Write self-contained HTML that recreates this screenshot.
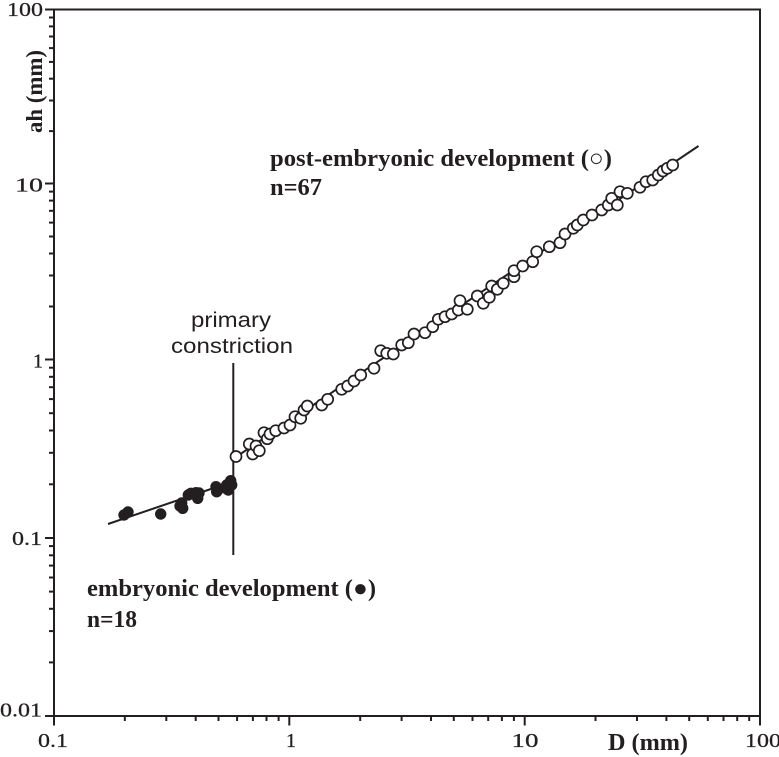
<!DOCTYPE html>
<html>
<head>
<meta charset="utf-8">
<style>
  html, body { margin: 0; padding: 0; background: #ffffff; }
  svg { display: block; }
  .tick { font-family: "Liberation Serif", serif; font-size: 20px; fill: #231f20; stroke: #231f20; stroke-width: 0.25; }
  .bold { font-family: "Liberation Serif", "DejaVu Serif", serif; font-size: 24px; font-weight: bold; fill: #231f20; }
  .sans { font-family: "Liberation Sans", "DejaVu Sans", sans-serif; font-size: 21px; fill: #231f20; }
</style>
</head>
<body>
<svg width="779" height="757" viewBox="0 0 779 757" xmlns="http://www.w3.org/2000/svg">
  <rect x="0" y="0" width="779" height="757" fill="#ffffff"/>

  <g stroke="#231f20" stroke-width="2" fill="none">
    <rect x="54" y="9.5" width="706" height="706.5"/>
  </g>

  <g stroke="#231f20" stroke-width="2">
    <line x1="45" y1="9.5" x2="54" y2="9.5"/>
    <line x1="45" y1="183.5" x2="54" y2="183.5"/>
    <line x1="45" y1="359.5" x2="54" y2="359.5"/>
    <line x1="45" y1="538" x2="54" y2="538"/>
    <line x1="45" y1="716" x2="54" y2="716"/>
    <line x1="49" y1="131.1" x2="54" y2="131.1"/>
    <line x1="49" y1="100.5" x2="54" y2="100.5"/>
    <line x1="49" y1="78.7" x2="54" y2="78.7"/>
    <line x1="49" y1="61.9" x2="54" y2="61.9"/>
    <line x1="49" y1="48.1" x2="54" y2="48.1"/>
    <line x1="49" y1="36.5" x2="54" y2="36.5"/>
    <line x1="49" y1="26.4" x2="54" y2="26.4"/>
    <line x1="49" y1="17.5" x2="54" y2="17.5"/>
    <line x1="49" y1="306.5" x2="54" y2="306.5"/>
    <line x1="49" y1="275.5" x2="54" y2="275.5"/>
    <line x1="49" y1="253.5" x2="54" y2="253.5"/>
    <line x1="49" y1="236.5" x2="54" y2="236.5"/>
    <line x1="49" y1="222.6" x2="54" y2="222.6"/>
    <line x1="49" y1="210.8" x2="54" y2="210.8"/>
    <line x1="49" y1="200.6" x2="54" y2="200.6"/>
    <line x1="49" y1="191.6" x2="54" y2="191.6"/>
    <line x1="49" y1="484.3" x2="54" y2="484.3"/>
    <line x1="49" y1="452.8" x2="54" y2="452.8"/>
    <line x1="49" y1="430.5" x2="54" y2="430.5"/>
    <line x1="49" y1="413.2" x2="54" y2="413.2"/>
    <line x1="49" y1="399.1" x2="54" y2="399.1"/>
    <line x1="49" y1="387.2" x2="54" y2="387.2"/>
    <line x1="49" y1="376.8" x2="54" y2="376.8"/>
    <line x1="49" y1="367.7" x2="54" y2="367.7"/>
    <line x1="49" y1="662.4" x2="54" y2="662.4"/>
    <line x1="49" y1="631.1" x2="54" y2="631.1"/>
    <line x1="49" y1="608.8" x2="54" y2="608.8"/>
    <line x1="49" y1="591.6" x2="54" y2="591.6"/>
    <line x1="49" y1="577.5" x2="54" y2="577.5"/>
    <line x1="49" y1="565.6" x2="54" y2="565.6"/>
    <line x1="49" y1="555.3" x2="54" y2="555.3"/>
    <line x1="49" y1="546.1" x2="54" y2="546.1"/>
  </g>

  <g stroke="#231f20" stroke-width="2">
    <line x1="54" y1="716" x2="54" y2="725.5"/>
    <line x1="289.3" y1="716" x2="289.3" y2="725.5"/>
    <line x1="524.7" y1="716" x2="524.7" y2="725.5"/>
    <line x1="760" y1="716" x2="760" y2="725.5"/>
    <line x1="124.8" y1="716" x2="124.8" y2="721"/>
    <line x1="166.3" y1="716" x2="166.3" y2="721"/>
    <line x1="195.7" y1="716" x2="195.7" y2="721"/>
    <line x1="218.5" y1="716" x2="218.5" y2="721"/>
    <line x1="237.1" y1="716" x2="237.1" y2="721"/>
    <line x1="252.9" y1="716" x2="252.9" y2="721"/>
    <line x1="266.5" y1="716" x2="266.5" y2="721"/>
    <line x1="278.6" y1="716" x2="278.6" y2="721"/>
    <line x1="360.2" y1="716" x2="360.2" y2="721"/>
    <line x1="401.6" y1="716" x2="401.6" y2="721"/>
    <line x1="431.0" y1="716" x2="431.0" y2="721"/>
    <line x1="453.8" y1="716" x2="453.8" y2="721"/>
    <line x1="472.5" y1="716" x2="472.5" y2="721"/>
    <line x1="488.2" y1="716" x2="488.2" y2="721"/>
    <line x1="501.9" y1="716" x2="501.9" y2="721"/>
    <line x1="513.9" y1="716" x2="513.9" y2="721"/>
    <line x1="595.5" y1="716" x2="595.5" y2="721"/>
    <line x1="637.0" y1="716" x2="637.0" y2="721"/>
    <line x1="666.4" y1="716" x2="666.4" y2="721"/>
    <line x1="689.2" y1="716" x2="689.2" y2="721"/>
    <line x1="707.8" y1="716" x2="707.8" y2="721"/>
    <line x1="723.5" y1="716" x2="723.5" y2="721"/>
    <line x1="737.2" y1="716" x2="737.2" y2="721"/>
    <line x1="749.2" y1="716" x2="749.2" y2="721"/>
  </g>

  <text class="tick" x="7" y="16" textLength="36" lengthAdjust="spacingAndGlyphs">100</text>
  <text class="tick" x="15" y="191.5" textLength="28" lengthAdjust="spacingAndGlyphs">10</text>
  <text class="tick" x="33" y="367.5" textLength="10" lengthAdjust="spacingAndGlyphs">1</text>
  <text class="tick" x="12" y="545" textLength="30" lengthAdjust="spacingAndGlyphs">0.1</text>
  <text class="tick" x="0" y="716.5" textLength="42" lengthAdjust="spacingAndGlyphs">0.01</text>

  <text class="tick" x="38" y="747" textLength="30" lengthAdjust="spacingAndGlyphs">0.1</text>
  <text class="tick" x="286" y="747" textLength="10" lengthAdjust="spacingAndGlyphs">1</text>
  <text class="tick" x="511.5" y="747" textLength="27" lengthAdjust="spacingAndGlyphs">10</text>
  <text class="tick" x="745" y="747" textLength="36" lengthAdjust="spacingAndGlyphs">100</text>

  <text class="bold" x="608" y="750" textLength="80" lengthAdjust="spacingAndGlyphs">D (mm)</text>
  <text class="bold" transform="translate(42,91.5) rotate(-90)" text-anchor="middle" textLength="83" lengthAdjust="spacingAndGlyphs" style="font-size:23px">ah (mm)</text>

  <text class="bold" x="270" y="166" textLength="342" lengthAdjust="spacingAndGlyphs">post-embryonic development (○)</text>
  <text class="bold" x="270" y="195" textLength="52" lengthAdjust="spacingAndGlyphs">n=67</text>
  <text class="bold" x="87" y="596" textLength="289" lengthAdjust="spacingAndGlyphs">embryonic development (●)</text>
  <text class="bold" x="87" y="627" textLength="50" lengthAdjust="spacingAndGlyphs">n=18</text>
  <text class="sans" x="231" y="327" text-anchor="middle" textLength="80" lengthAdjust="spacingAndGlyphs">primary</text>
  <text class="sans" x="232" y="353" text-anchor="middle" textLength="122" lengthAdjust="spacingAndGlyphs">constriction</text>

  <g stroke="#231f20" stroke-width="2" fill="none">
    <line x1="233.3" y1="363" x2="233.3" y2="555"/>
    <line x1="108" y1="524" x2="233" y2="481.5"/>
    <line x1="233" y1="459" x2="698.5" y2="146"/>
  </g>

  <g fill="#231f20">
    <circle cx="124" cy="515" r="5.7"/>
    <circle cx="128" cy="512" r="5.7"/>
    <circle cx="160.7" cy="514" r="5.7"/>
    <circle cx="180" cy="506" r="5.7"/>
    <circle cx="181.7" cy="503" r="5.7"/>
    <circle cx="182.7" cy="508.3" r="5.7"/>
    <circle cx="188.3" cy="495" r="5.7"/>
    <circle cx="191" cy="493.3" r="5.7"/>
    <circle cx="196" cy="492.7" r="5.7"/>
    <circle cx="197.7" cy="498.3" r="5.7"/>
    <circle cx="199" cy="493" r="5.7"/>
    <circle cx="216" cy="486.7" r="5.7"/>
    <circle cx="216.7" cy="491.7" r="5.7"/>
    <circle cx="225" cy="488" r="5.7"/>
    <circle cx="226.7" cy="485" r="5.7"/>
    <circle cx="228.3" cy="490" r="5.7"/>
    <circle cx="230.7" cy="480.7" r="5.7"/>
    <circle cx="231.7" cy="485" r="5.7"/>
  </g>

  <g fill="#ffffff" stroke="#231f20" stroke-width="1.7">
    <circle cx="236" cy="456.5" r="5.5"/>
    <circle cx="249.3" cy="444" r="5.5"/>
    <circle cx="252.7" cy="454" r="5.5"/>
    <circle cx="256" cy="446" r="5.5"/>
    <circle cx="259.3" cy="450.7" r="5.5"/>
    <circle cx="264" cy="432.7" r="5.5"/>
    <circle cx="267.3" cy="438.7" r="5.5"/>
    <circle cx="270" cy="434" r="5.5"/>
    <circle cx="275.7" cy="430.7" r="5.5"/>
    <circle cx="284" cy="428" r="5.5"/>
    <circle cx="290" cy="425" r="5.5"/>
    <circle cx="295" cy="416.7" r="5.5"/>
    <circle cx="300.7" cy="418.3" r="5.5"/>
    <circle cx="304" cy="410" r="5.5"/>
    <circle cx="307.3" cy="406" r="5.5"/>
    <circle cx="321.7" cy="405" r="5.5"/>
    <circle cx="327.7" cy="399.3" r="5.5"/>
    <circle cx="341.7" cy="389.3" r="5.5"/>
    <circle cx="347.7" cy="386" r="5.5"/>
    <circle cx="354" cy="381" r="5.5"/>
    <circle cx="360.7" cy="375" r="5.5"/>
    <circle cx="374" cy="368.3" r="5.5"/>
    <circle cx="380.7" cy="350.7" r="5.5"/>
    <circle cx="386.7" cy="353.3" r="5.5"/>
    <circle cx="393.3" cy="354" r="5.5"/>
    <circle cx="401.7" cy="345" r="5.5"/>
    <circle cx="408.3" cy="342.7" r="5.5"/>
    <circle cx="414" cy="334" r="5.5"/>
    <circle cx="425" cy="332.7" r="5.5"/>
    <circle cx="432.7" cy="326.7" r="5.5"/>
    <circle cx="438.3" cy="319.3" r="5.5"/>
    <circle cx="445" cy="316.7" r="5.5"/>
    <circle cx="451.7" cy="314" r="5.5"/>
    <circle cx="458.3" cy="310" r="5.5"/>
    <circle cx="460" cy="300.7" r="5.5"/>
    <circle cx="467.3" cy="309.3" r="5.5"/>
    <circle cx="477.3" cy="296" r="5.5"/>
    <circle cx="483.3" cy="303.3" r="5.5"/>
    <circle cx="489.3" cy="297.3" r="5.5"/>
    <circle cx="491.7" cy="286" r="5.5"/>
    <circle cx="497.3" cy="289.3" r="5.5"/>
    <circle cx="503.3" cy="283.3" r="5.5"/>
    <circle cx="514" cy="276.7" r="5.5"/>
    <circle cx="514" cy="270.7" r="5.5"/>
    <circle cx="522.7" cy="266" r="5.5"/>
    <circle cx="532.7" cy="261.7" r="5.5"/>
    <circle cx="536.7" cy="251.7" r="5.5"/>
    <circle cx="549.3" cy="246.7" r="5.5"/>
    <circle cx="560" cy="242.7" r="5.5"/>
    <circle cx="565" cy="234" r="5.5"/>
    <circle cx="573.3" cy="228.3" r="5.5"/>
    <circle cx="577.3" cy="225" r="5.5"/>
    <circle cx="583.3" cy="220" r="5.5"/>
    <circle cx="592" cy="215" r="5.5"/>
    <circle cx="601.7" cy="210" r="5.5"/>
    <circle cx="608.3" cy="205" r="5.5"/>
    <circle cx="611.7" cy="198.3" r="5.5"/>
    <circle cx="617.3" cy="205" r="5.5"/>
    <circle cx="620" cy="191.7" r="5.5"/>
    <circle cx="627.3" cy="193.3" r="5.5"/>
    <circle cx="640" cy="187.3" r="5.5"/>
    <circle cx="646" cy="181.7" r="5.5"/>
    <circle cx="652.7" cy="180" r="5.5"/>
    <circle cx="658.3" cy="175" r="5.5"/>
    <circle cx="663" cy="171" r="5.5"/>
    <circle cx="667.3" cy="168.3" r="5.5"/>
    <circle cx="672.7" cy="165" r="5.5"/>
  </g>
</svg>
</body>
</html>
